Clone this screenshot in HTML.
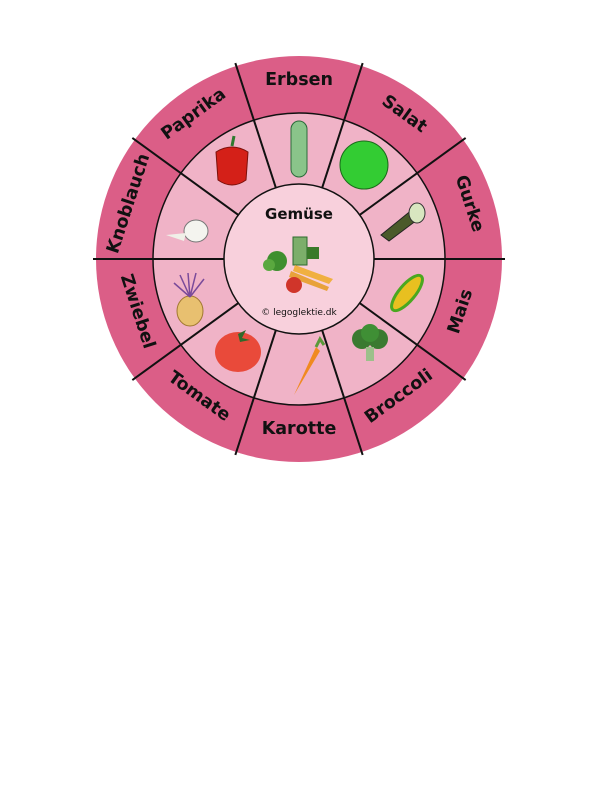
<!DOCTYPE html>
<html><head><meta charset="utf-8"><style>
html,body{margin:0;padding:0;background:#fff;width:612px;height:792px;overflow:hidden}
text{font-family:"DejaVu Sans","Liberation Sans",sans-serif;font-weight:bold;fill:#111}
</style></head><body>
<svg width="612" height="792" viewBox="0 0 612 792" xmlns="http://www.w3.org/2000/svg">
<g transform="translate(299,259)">
<circle r="203" fill="#db5e87"/>
<circle r="146" fill="#f0b3c7" stroke="#111" stroke-width="1.5"/>
<g stroke="#111" stroke-width="2">
<line x1="75" y1="0" x2="206" y2="0" transform="rotate(0)"/>
<line x1="75" y1="0" x2="206" y2="0" transform="rotate(36)"/>
<line x1="75" y1="0" x2="206" y2="0" transform="rotate(72)"/>
<line x1="75" y1="0" x2="206" y2="0" transform="rotate(108)"/>
<line x1="75" y1="0" x2="206" y2="0" transform="rotate(144)"/>
<line x1="75" y1="0" x2="206" y2="0" transform="rotate(180)"/>
<line x1="75" y1="0" x2="206" y2="0" transform="rotate(216)"/>
<line x1="75" y1="0" x2="206" y2="0" transform="rotate(252)"/>
<line x1="75" y1="0" x2="206" y2="0" transform="rotate(288)"/>
<line x1="75" y1="0" x2="206" y2="0" transform="rotate(324)"/>
</g>
<circle r="75" fill="#f8d0dc" stroke="#111" stroke-width="1.5"/>
<g font-size="17.5" text-anchor="middle">
<text transform="rotate(0) translate(0,-180)" dy="6">Erbsen</text>
<text transform="rotate(36) translate(0,-180)" dy="6">Salat</text>
<text transform="rotate(72) translate(0,-180)" dy="6">Gurke</text>
<text transform="rotate(-36) translate(0,-180)" dy="6">Paprika</text>
<text transform="rotate(-72) translate(0,-180)" dy="6">Knoblauch</text>
<text transform="rotate(0) translate(0,169)" dy="6">Karotte</text>
<text transform="rotate(-36) translate(0,169)" dy="6">Broccoli</text>
<text transform="rotate(-72) translate(0,169)" dy="6">Mais</text>
<text transform="rotate(36) translate(0,169)" dy="6">Tomate</text>
<text transform="rotate(72) translate(0,169)" dy="6">Zwiebel</text>
</g>
<text x="0" y="-40" font-size="15" text-anchor="middle">Gemüse</text>
<text x="0" y="56" font-size="9" text-anchor="middle" style="font-weight:normal">© legoglektie.dk</text>
<g>
<rect x="-6" y="-22" width="14" height="28" fill="#7cae6a" stroke="#2d6b2d"/>
<circle cx="-22" cy="2" r="10" fill="#3f8f2f"/>
<circle cx="-30" cy="6" r="6" fill="#5aa83f"/>
<path d="M-8 12 L30 28 L28 32 L-10 18Z" fill="#e8a23a"/>
<path d="M-4 6 L34 20 L30 25 L-6 12Z" fill="#f0b040"/>
<circle cx="-5" cy="26" r="8" fill="#d0352a"/>
<rect x="8" y="-12" width="12" height="12" fill="#3a7a2a"/>
</g>
<g transform="translate(-67,-93)">
<path d="M-16 -14 Q0 -24 16 -14 L14 14 Q0 24 -14 14Z" fill="#d42018" stroke="#7a100a"/>
<path d="M0 -20 L2 -30" stroke="#2f7a2f" stroke-width="3"/>
</g>
<g transform="translate(0,-110)"><rect x="-8" y="-28" width="16" height="56" rx="8" fill="#8ac48a" stroke="#2b6b3a"/></g>
<g transform="translate(65,-94)"><circle r="24" fill="#33cc33" stroke="#1a6b1a"/></g>
<g transform="translate(104,-36)">
<path d="M-22 12 L10 -14 L18 -6 L-14 18 Z" fill="#4a5a2a" stroke="#222"/>
<ellipse cx="14" cy="-10" rx="8" ry="10" fill="#d8e6c0" stroke="#333"/>
</g>
<g transform="translate(108,34) rotate(40)"><ellipse rx="8" ry="22" fill="#e8c020" stroke="#4aa820" stroke-width="3"/></g>
<g transform="translate(71,86)">
<circle cx="-8" cy="-6" r="10" fill="#3a7a30"/><circle cx="8" cy="-6" r="10" fill="#3a7a30"/><circle cx="0" cy="-12" r="9" fill="#3f8f35"/>
<rect x="-4" y="2" width="8" height="14" fill="#9cc08a"/>
</g>
<g transform="translate(7,110)"><path d="M10 -22 L-12 26 L14 -18Z" fill="#f08a20"/><path d="M10 -22 l4 -8 l4 6" stroke="#5a9a3a" stroke-width="3" fill="none"/></g>
<g transform="translate(-61,93)"><ellipse rx="23" ry="20" fill="#e94a3a"/><path d="M0 -18 l8 -4 l-4 8 l8 2 l-10 2" fill="#2f6a2a"/></g>
<g transform="translate(-109,44)"><ellipse cy="8" rx="13" ry="15" fill="#e8c070" stroke="#a07830"/>
<path d="M0 -6 L-10 -28 M0 -6 L-2 -30 M0 -6 L6 -30 M0 -6 L14 -24 M0 -6 L-16 -20" stroke="#7a4a9a" stroke-width="1.5" fill="none"/></g>
<g transform="translate(-103,-34)"><ellipse cy="6" rx="12" ry="11" fill="#f4f4ef" stroke="#777"/><path d="M-30 10 L-10 8 L-12 16Z" fill="#f0f0e8"/></g>
</g>
</svg>
</body></html>
